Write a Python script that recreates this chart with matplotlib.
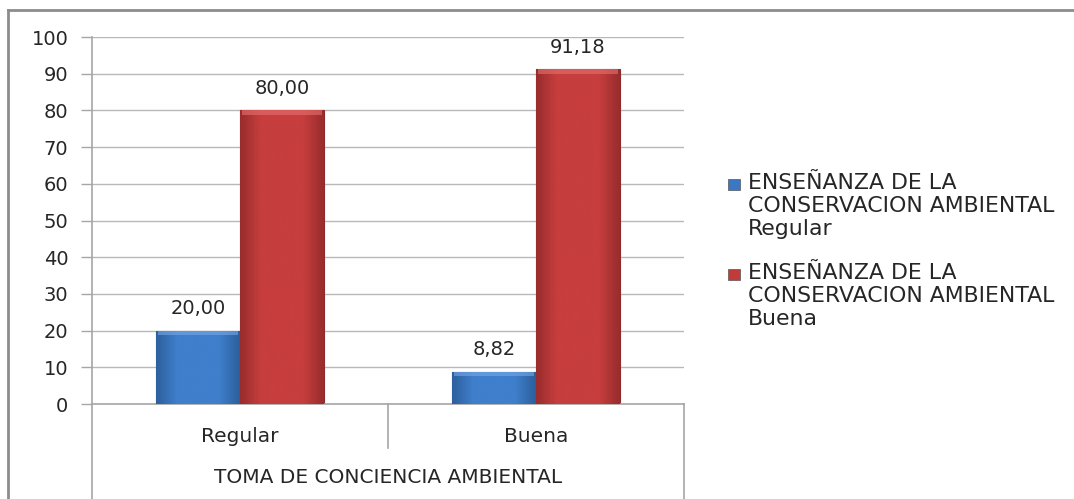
import numpy as np
import matplotlib.pyplot as plt
from matplotlib.lines import Line2D
from matplotlib.patches import Rectangle
from matplotlib.colors import LinearSegmentedColormap

plt.rcParams['font.family'] = ['DejaVu Sans']

categorias = ['Regular', 'Buena']
serie_regular = [20.00, 8.82]
serie_buena = [80.00, 91.18]
nombres_series = ['ENSEÑANZA DE LA\nCONSERVACION AMBIENTAL\nRegular',
                  'ENSEÑANZA DE LA\nCONSERVACION AMBIENTAL\nBuena']
titulo_eje = 'TOMA DE CONCIENCIA AMBIENTAL'
yticks = [0, 10, 20, 30, 40, 50, 60, 70, 80, 90, 100]

color_txt = '#262626'
color_gris = '#a6a6a6'
colores = ['#3a78c3', '#c23b3b']

fig = plt.figure(figsize=(10.74, 4.99), dpi=100)
ax = fig.add_axes([92 / 1074, 1 - 404 / 499, 592 / 1074, 367 / 499])

x = np.arange(len(categorias)) + 0.5
ancho = 0.283

def degradado(barras, claro, oscuro, bisel):
    # sombreado horizontal para imitar el relieve de Excel
    cmap = LinearSegmentedColormap.from_list('g', [oscuro, claro, claro, claro, oscuro])
    grad = np.linspace(0, 1, 256).reshape(1, -1)
    for b in barras:
        x0, y0, w, h = b.get_x(), b.get_y(), b.get_width(), b.get_height()
        im = ax.imshow(grad, cmap=cmap, extent=[x0, x0 + w, y0, y0 + h],
                       aspect='auto', zorder=3, interpolation='bicubic')
        im.set_clip_path(b)
        ax.bar(x0 + w / 2, min(1.2, h), bottom=h - min(1.2, h), width=w * 0.96,
               color=bisel, alpha=0.6, zorder=4, linewidth=0)

b1 = ax.bar(x - ancho / 2, serie_regular, ancho, color=colores[0], edgecolor='#2c5d97',
            linewidth=0.8, zorder=2)
b2 = ax.bar(x + ancho / 2, serie_buena, ancho, color=colores[1], edgecolor='#8e2a2a',
            linewidth=0.8, zorder=2)
degradado(b1, '#3f7fcc', '#2d5f9c', '#79a9e6')
degradado(b2, '#c73e3e', '#982c2c', '#e67171')

for barras, vals in ((b1, serie_regular), (b2, serie_buena)):
    for b, v in zip(barras, vals):
        ax.text(b.get_x() + b.get_width() / 2, v + 3.5, f'{v:.2f}'.replace('.', ','),
                ha='center', va='bottom', fontsize=14, color=color_txt, zorder=5)

ax.set_xlim(0, len(categorias))
ax.set_ylim(0, 100)
ax.set_yticks(yticks)
ax.tick_params(axis='y', labelsize=14, colors=color_gris, labelcolor=color_txt,
               length=8, width=1, pad=9)
ax.set_xticks([])
ax.yaxis.grid(True, color='#b8b8b8', linewidth=1)
ax.set_axisbelow(True)
for s in ('top', 'right'):
    ax.spines[s].set_visible(False)
for s in ('left', 'bottom'):
    ax.spines[s].set_color(color_gris)
    ax.spines[s].set_linewidth(1.2)

# eje de categorias en dos niveles
tr = ax.get_xaxis_transform()
for i in range(len(categorias) + 1):
    fondo = -0.3 if i in (0, len(categorias)) else -0.12
    ax.add_line(Line2D([i, i], [0, fondo], transform=tr, color=color_gris,
                       linewidth=1.2, clip_on=False))
for xi, cat in zip(x, categorias):
    ax.text(xi, -0.088, cat, transform=tr, ha='center', va='center',
            fontsize=14.5, color=color_txt)
ax.text(len(categorias) / 2, -0.2, titulo_eje, transform=tr, ha='center',
        va='center', fontsize=14.5, color=color_txt)

# leyenda a la derecha, marcador alineado con la primera linea
for k, (nombre, col) in enumerate(zip(nombres_series, colores)):
    y_top = 1 - (173 + 90 * k) / 499
    fig.text(748 / 1074, y_top, nombre, ha='left', va='top', fontsize=15.8,
             color=color_txt, linespacing=1.2)
    fig.add_artist(Rectangle((728 / 1074, y_top - 17 / 499), 12 / 1074, 11 / 499,
                             facecolor=col, edgecolor='#555555', linewidth=0.5))

# marco exterior del grafico
fig.add_artist(Line2D([8 / 1074, 8 / 1074], [0, 1 - 10 / 499], color='#8c8c8c', linewidth=2))
fig.add_artist(Line2D([8 / 1074, 1], [1 - 10 / 499, 1 - 10 / 499], color='#8c8c8c', linewidth=2))

fig.savefig('out.png', dpi=100, facecolor='white')
